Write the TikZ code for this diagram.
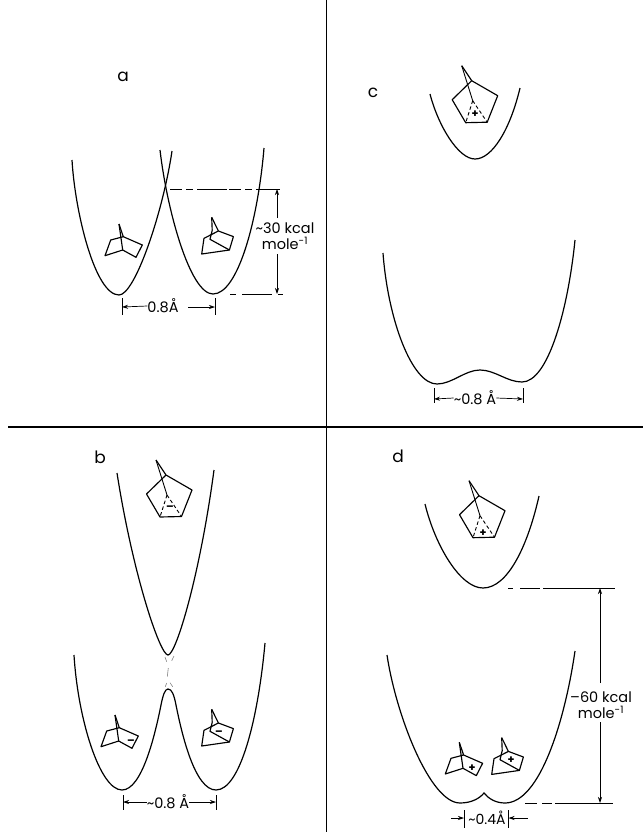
\documentclass[tikz,border=0pt]{standalone}
\usepackage{fontspec}
\setmainfont{Poppins}
\usetikzlibrary{arrows.meta}
\tikzset{
  well/.style={line width=1.2pt},
  divider/.style={line width=1pt},
  mol/.style={line width=1.15pt,line join=round},
  dimline/.style={line width=0.7pt},
  levelline/.style={line width=0.9pt,dash pattern=on 12pt off 4pt on 7pt off 4pt on 30pt off 2pt},
  panel/.style={inner sep=0pt,font=\fontsize{17}{17}\selectfont},
  dimtext/.style={inner sep=0pt,align=center,font=\fontsize{14.5}{16.5}\selectfont},
  sign/.style={inner sep=0pt,font=\bfseries\fontsize{11}{11}\selectfont}
}
% norbornyl frame, bridge on top
\newcommand{\normolA}[2]{%
  \begin{scope}[shift={(#1,#2)}]
    \draw[mol] (0,0) -- (4.3,12.7) -- (23.3,21) -- (17,33.3) -- (3.7,26) -- (-14,31.7) -- (-8.3,16) -- (4.3,12.7);
    \draw[mol] (0,0) -- (3.7,26);
  \end{scope}}
\newcommand{\normolB}[2]{%
  \begin{scope}[shift={(#1,#2)}]
    \draw[mol] (0,0) -- (6.7,13.7) -- (21.7,19.3) -- (17.7,32.7) -- (-10,36.7) -- (-7.7,21) -- (6.7,13.7);
    \draw[mol] (0,0) -- (0.5,13) -- (-1.7,22) -- (17.7,32.7);
  \end{scope}}
% pentagon with bridged centre
\newcommand{\pentamol}[2]{%
  \begin{scope}[shift={(#1,#2)}]
    \draw[mol] (0,0) -- (10,15) -- (36,30) -- (25.5,56.5) -- (4,57) -- (-9.5,34) -- (10,15);
    \draw[mol,line width=0.9pt] (0,0) -- (11,35);
    \draw[mol,line width=0.9pt,dash pattern=on 3.5pt off 2.5pt] (11,35) -- (4,57);
    \draw[mol,line width=0.9pt,dash pattern=on 3.5pt off 2.5pt] (11,35) -- (25.5,56.5);
  \end{scope}}
\begin{document}
\begin{tikzpicture}[x=1pt,y=-1pt,>={Stealth[length=6pt,width=4pt]}]
  \useasboundingbox (0,0) rectangle (643,836);
  \draw[divider] (326,0) -- (326,832);
  \draw[divider,line width=1.5pt] (8,427) -- (643,427);

  \node[panel] (laba) at (123,77) {a};
  \node[panel] (labb) at (100,457) {b};
  \node[panel] (labc) at (373,93) {c};
  \node[panel] (labd) at (398,456) {d};

  % a
  \draw[well] (72,160) .. controls (75,212) and (95,295) .. (119,295) .. controls (135,295) and (163,212) .. (172,151);
  \draw[well] (160,150) .. controls (167,210) and (190,294) .. (213,294) .. controls (238,294) and (258,220) .. (264,148);
  \normolA{119}{224}
  \normolB{211.7}{217.3}
  \coordinate (acrossing) at (170,189);
  \coordinate (atop) at (280,189);
  \coordinate (abase) at (230,294);
  \coordinate (abot) at (283,294);
  \draw[levelline] (acrossing) -- (atop);
  \draw[levelline,dash pattern=on 6pt off 6pt on 30pt] (abase) -- (abot);
  \node[dimtext] (acal) at (285,236) {\textasciitilde30 kcal\\mole\textsuperscript{-1}};
  \draw[dimline,->] (277,218) -- (277,189);
  \draw[dimline,->] (277,254) -- (277,294);
  \draw[dimline] (122,298) -- (122,315);
  \draw[dimline] (215,298) -- (215,315);
  \node[dimtext] (adist) at (163,306) {0.8Å};
  \draw[dimline,->] (adist.west) -- (122,307);
  \draw[dimline,->] (188,307) -- (215,307);

  % b
  \draw[well] (117,473) .. controls (133,575) and (160,655) .. (168,655) .. controls (176,655) and (200,575) .. (214,470);
  \draw[well] (74,655) .. controls (78,720) and (100,790) .. (122,790) .. controls (142,790) and (155,735) .. (161,705)
    .. controls (163,695) and (165,689) .. (168,689) .. controls (172,689) and (174,695) .. (176,705)
    .. controls (182,735) and (195,790) .. (216,790) .. controls (240,790) and (258,720) .. (265,643);
  \draw[line width=0.6pt,gray] (165,657) -- (166.7,661.7) (174,656) -- (171.7,660.7) (168.3,668) -- (167.3,676.7)
    (166.7,683) -- (165.3,686.7) (170,682.7) -- (172.7,686.7);
  \pentamol{156}{460}
  \node[sign] (signb) at (170,508) {–};
  \normolA{115}{715}
  \node[sign] (signbl) at (131,742) {–};
  \normolB{211.7}{709.3}
  \node[sign] (signbr) at (219,733) {–};
  \draw[dimline] (123,795) -- (123,810);
  \draw[dimline] (216,795) -- (216,810);
  \node[dimtext] (bdist) at (168,802) {\textasciitilde0.8 Å};
  \draw[dimline,->] (bdist.west) -- (123,802);
  \draw[dimline,->] (bdist.east) -- (216,802);

  % c
  \draw[well] (430,94) .. controls (438,125) and (458,159) .. (475,159) .. controls (492,159) and (510,130) .. (520,88);
  \draw[well] (383,253) .. controls (388,320) and (412,384) .. (437,384) .. controls (452,384) and (465,370) .. (480,370)
    .. controls (495,370) and (507,382) .. (522,382) .. controls (548,382) and (568,310) .. (575,240);
  \pentamol{461.7}{65.7}
  \node[sign] (signc) at (475,114) {+};
  \draw[dimline] (434,388) -- (434,403);
  \draw[dimline] (523,388) -- (523,403);
  \node[dimtext] (cdist) at (475,398) {\textasciitilde0.8 Å};
  \draw[dimline,->] (cdist.west) -- (434,399);
  \draw[dimline,->] (cdist.east) -- (523,399);

  % d
  \draw[well] (425,504) .. controls (435,545) and (460,588) .. (483,588) .. controls (508,588) and (528,545) .. (539,496);
  \draw[well] (387,655) .. controls (396,715) and (430,803) .. (460,803) .. controls (472,803) and (480,798) .. (484,793)
    .. controls (488,798) and (495,803) .. (505,803) .. controls (540,803) and (565,720) .. (575,651);
  \pentamol{469}{480.7}
  \node[sign] (signd) at (483,533) {+};
  \normolA{459.3}{742.3}
  \node[sign] (signdl) at (472,768) {+};
  \normolB{501.7}{737.7}
  \node[sign] (signdr) at (511,760) {+};
  \coordinate (dtop) at (508,588);
  \coordinate (dtopend) at (615,588);
  \coordinate (dbase) at (525,803);
  \coordinate (dbotend) at (613,803);
  \draw[levelline,dash pattern=on 5pt off 7pt on 20pt off 3pt on 100pt] (dtop) -- (dtopend);
  \draw[levelline,dash pattern=on 12pt off 5pt on 10pt off 3pt on 100pt] (dbase) -- (dbotend);
  \node[dimtext] (dcal) at (601,705) {–60 kcal\\mole\textsuperscript{-1}};
  \draw[dimline,->] (600,683) -- (600,588);
  \draw[dimline,->] (600,722) -- (600,803);
  \draw[dimline] (464,810) -- (464,828);
  \draw[dimline] (508.5,810) -- (508.5,828);
  \node[dimtext,font=\fontsize{14}{14}\selectfont] (ddist) at (487,818) {\textasciitilde0.4Å};
  \draw[dimline,<-] (464,818) -- (451,818);
  \draw[dimline,<-] (508.5,818) -- (528,818);
\end{tikzpicture}
\end{document}
